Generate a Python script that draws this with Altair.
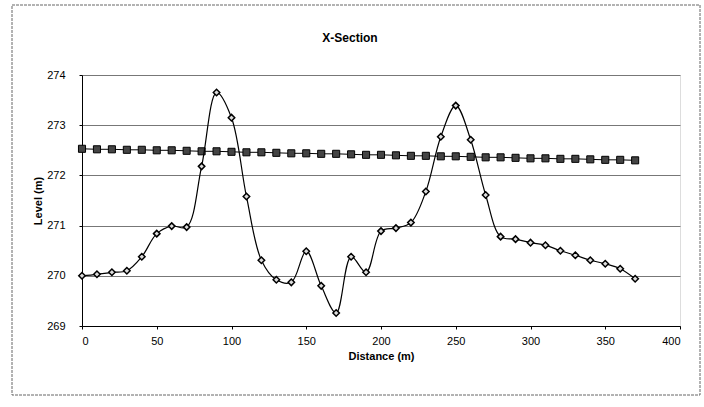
import altair as alt
import pandas as pd

distance = [0, 10, 20, 30, 40, 50, 60, 70, 80, 90, 100, 110, 120, 130, 140, 150, 160, 170, 180, 190,
            200, 210, 220, 230, 240, 250, 260, 270, 280, 290, 300, 310, 320, 330, 340, 350, 360, 370]
ground_level = [270.00, 270.03, 270.07, 270.10, 270.38, 270.84, 270.99, 270.97, 272.18, 273.65,
                273.15, 271.58, 270.31, 269.92, 269.87, 270.49, 269.80, 269.26, 270.38, 270.07,
                270.89, 270.95, 271.06, 271.68, 272.77, 273.39, 272.71, 271.61, 270.78, 270.73,
                270.66, 270.61, 270.50, 270.41, 270.31, 270.24, 270.14, 269.94]
water_level = [272.53, 272.52, 272.52, 272.51, 272.51, 272.50, 272.50, 272.49, 272.48, 272.48,
               272.47, 272.46, 272.46, 272.45, 272.44, 272.44, 272.43, 272.43, 272.42, 272.41,
               272.41, 272.40, 272.39, 272.39, 272.38, 272.38, 272.37, 272.36, 272.36, 272.35,
               272.34, 272.34, 272.33, 272.33, 272.32, 272.31, 272.31, 272.30]
x_ticks = [0, 50, 100, 150, 200, 250, 300, 350, 400]
y_ticks = [269, 270, 271, 272, 273, 274]
chart_title = "X-Section"

df = pd.DataFrame({"Distance": distance, "Ground": ground_level, "Water": water_level})

FONT = "Liberation Sans"

xenc = alt.X("Distance:Q",
             scale=alt.Scale(domain=[0, 400], nice=False),
             axis=alt.Axis(title="Distance (m)", values=x_ticks, grid=False, tickSize=3,
                           labelPadding=6, titlePadding=4, labelFont=FONT, titleFont=FONT,
                           labelFontSize=11, titleFontSize=11, titleFontWeight="bold",
                           labelColor="black", titleColor="black", domainColor="black",
                           tickColor="black"))

def yenc(field):
    return alt.Y(f"{field}:Q",
                 scale=alt.Scale(domain=[269, 274], nice=False, zero=False),
                 axis=alt.Axis(title="Level (m)", values=y_ticks, grid=True, gridColor="#777",
                               gridWidth=1, tickSize=3, labelPadding=14, titlePadding=3,
                               labelFont=FONT, titleFont=FONT, labelFontSize=11,
                               titleFontSize=11, titleFontWeight="bold", labelColor="black",
                               titleColor="black", domainColor="black", tickColor="black"))

one = pd.DataFrame({"t": [chart_title]})

frame = alt.Chart(one).mark_rect(
    fill=None, stroke="#666", strokeWidth=1, strokeDash=[3, 1]
).encode(x=alt.value(-70), x2=alt.value(618), y=alt.value(-70), y2=alt.value(320))

title_text = alt.Chart(one).mark_text(
    font=FONT, fontSize=12, fontWeight="bold", color="black", align="center", baseline="alphabetic"
).encode(text="t:N", x=alt.value(268), y=alt.value(-33))

ground_line = alt.Chart(df).mark_line(
    interpolate="catmull-rom", color="black", strokeWidth=1.2
).encode(x=xenc, y=yenc("Ground"))
ground_pts = alt.Chart(df).mark_point(
    shape="diamond", filled=True, fill="#ddd", stroke="black", strokeWidth=1.5, size=42, opacity=1
).encode(x=xenc, y=yenc("Ground"))

water_line = alt.Chart(df).mark_line(color="black", strokeWidth=1).encode(x=xenc, y=yenc("Water"))
water_pts = alt.Chart(df).mark_point(
    shape="square", filled=True, fill="#444", stroke="black", strokeWidth=1, size=50, opacity=1
).encode(x=xenc, y=yenc("Water"))

chart = alt.layer(frame, title_text, water_line, water_pts, ground_line, ground_pts).properties(
    width=598, height=251,
    autosize=alt.AutoSizeParams(type="none"),
    padding={"left": 82, "top": 75, "right": 24, "bottom": 81},
).configure_view(stroke="#444", strokeWidth=1).configure(background="white")

chart.save("out.html", embed_options={"renderer": "svg", "actions": False})
